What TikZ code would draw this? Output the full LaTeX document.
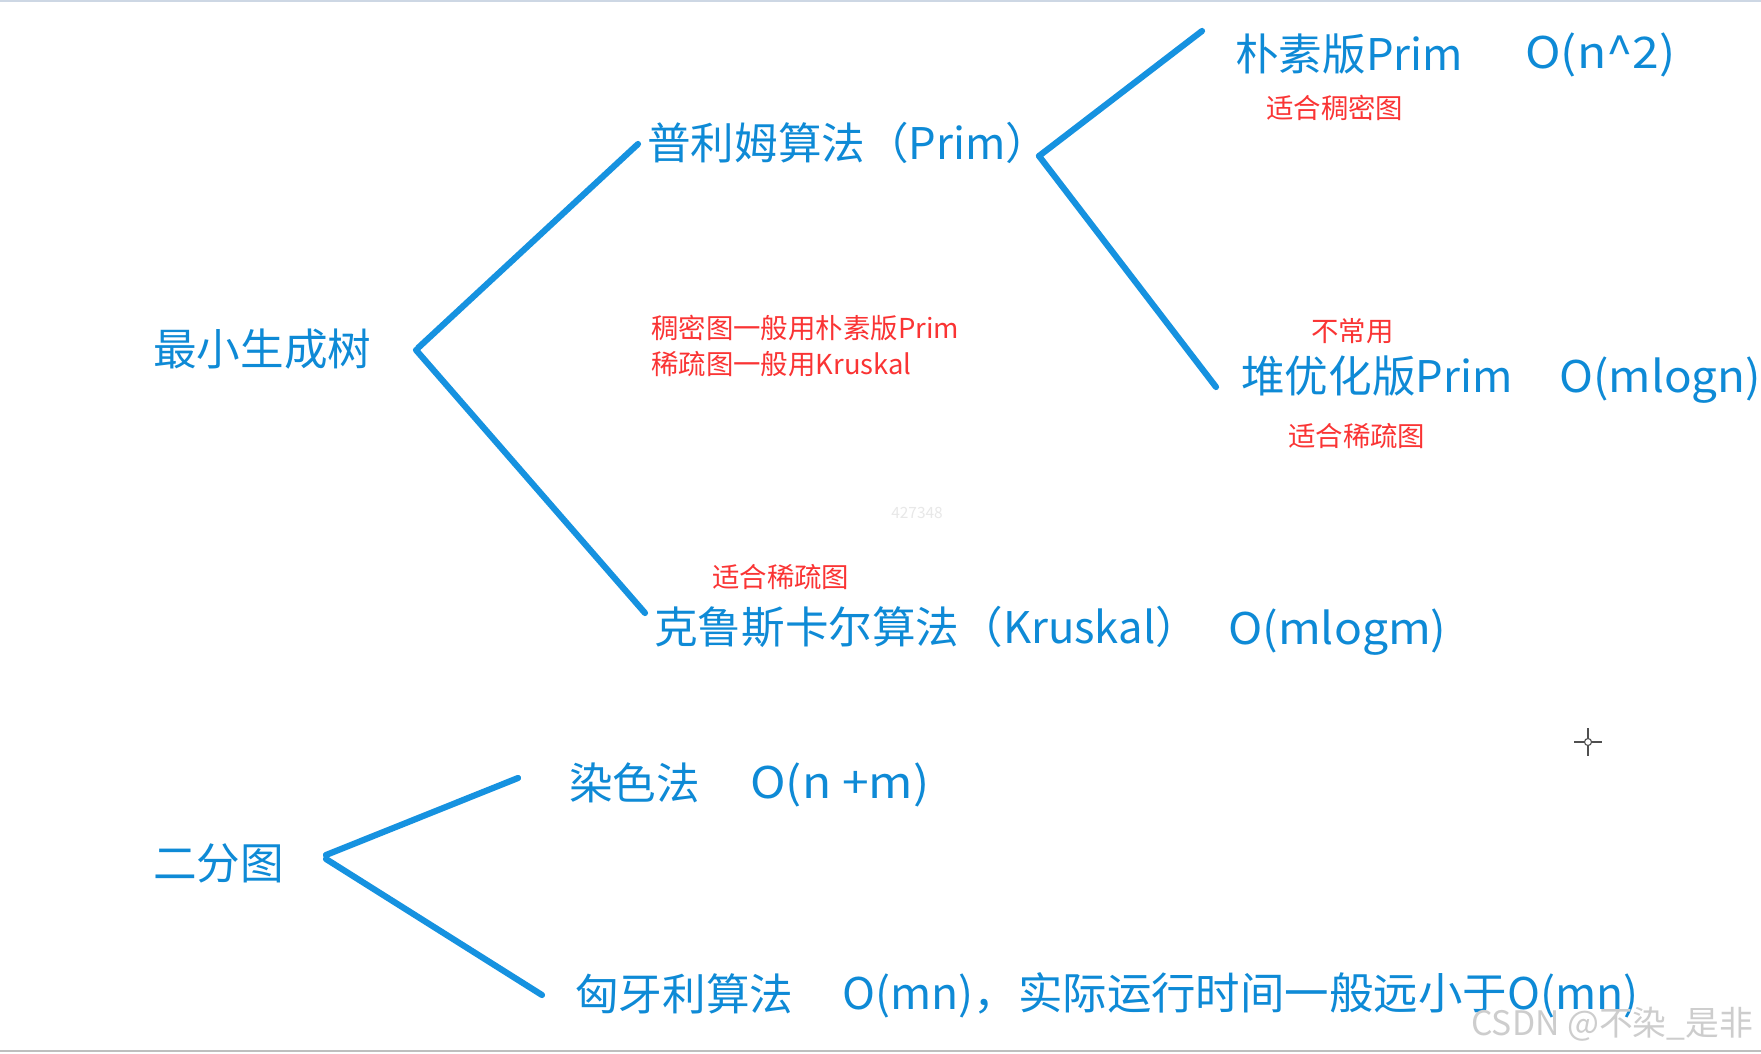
\documentclass[tikz,border=0pt]{standalone}
\usepackage{fontspec}
\usetikzlibrary{calc}
\setmainfont{Noto Sans CJK SC}
\begin{document}
\begin{tikzpicture}[x=0.025cm,y=-0.025cm,
  bluetext/.style={text=mblue,font=\fontsize{31}{36}\selectfont,anchor=west,inner sep=0pt},
  redtext/.style={text=mred,font=\fontsize{19.5}{23}\selectfont,anchor=west,inner sep=0pt},
  branch/.style={draw=mline,line width=4.4pt,line cap=round}]
\definecolor{mblue}{RGB}{14,138,214}
\definecolor{mline}{RGB}{22,146,224}
\definecolor{mred}{RGB}{250,52,52}
\useasboundingbox (0,0) rectangle (1761,1053);
\fill[white] (0,0) rectangle (1761,1053);
\draw[color={rgb,255:red,205;green,215;blue,228},line width=2pt] (0,1) -- (1761,1);
\draw[color={rgb,255:red,190;green,190;blue,190},line width=1.5pt] (0,1051) -- (1761,1051);
% main nodes
\node[bluetext] (mst) at (153,349) {最小生成树};
\node[bluetext] (prim) at (647,143) {普利姆算法（Prim）};
\node[bluetext] (naive) at (1235,54) {朴素版Prim};
\node[bluetext] (on2) at (1525,55) {\addfontfeature{FakeStretch=1.1}O(n\^{}2)};
\node[redtext] (dense) at (1266,108) {适合稠密图};
\node[redtext] (note1) at (651,328) {稠密图一般用朴素版Prim};
\node[redtext] (note2) at (651,364) {稀疏图一般用Kruskal};
\node[redtext] (rare) at (1311,331) {不常用};
\node[bluetext] (heap) at (1241,376) {堆优化版Prim};
\node[bluetext] (omlogn) at (1559,380) {\addfontfeature{FakeStretch=1.05}O(mlogn)};
\node[redtext] (sparse1) at (1288,436) {适合稀疏图};
\node[text={rgb,255:red,232;green,232;blue,232},font=\fontsize{11}{13}\selectfont,inner sep=0pt] (wm1) at (917,513) {427348};
\node[redtext] (sparse2) at (712,577) {适合稀疏图};
\node[bluetext] (krus) at (654,627) {克鲁斯卡尔算法（Kruskal）};
\node[bluetext] (omlogm) at (1228,632) {\addfontfeature{FakeStretch=1.06}O(mlogm)};
\node[bluetext] (bip) at (153,863) {二分图};
\node[bluetext] (color) at (569,783) {染色法};
\node[bluetext] (onm) at (750,785) {\addfontfeature{FakeStretch=1.1}O(n +m)};
\node[bluetext] (hung) at (575,994) {匈牙利算法};
\node[bluetext] (hungc) at (842,995) {\addfontfeature{FakeStretch=1.02}O(mn)，实际运行时间一般远小于O(mn)};
\node[text={rgb,255:red,205;green,205;blue,205},font=\fontsize{24}{28}\selectfont,anchor=west,inner sep=0pt] (csdn) at (1471,1024) {CSDN @不染\_是非};
% branch coordinates
\coordinate (a0) at (418,348);
\coordinate (a1) at (638,144);
\coordinate (b0) at (416,350);
\coordinate (b1) at (645,613);
\coordinate (c0) at (1039,156);
\coordinate (c1) at (1202,31);
\coordinate (d1) at (1216,387);
\coordinate (e0) at (326,855);
\coordinate (e1) at (518,778);
\coordinate (f0) at (326,859);
\coordinate (f1) at (542,995);
\draw[branch] (a0) -- (a1);
\draw[branch] (b0) -- (b1);
\draw[branch] (c0) -- (c1);
\draw[branch] (c0) -- (d1);
\draw[branch] (e0) -- (e1);
\draw[branch] (f0) -- (f1);
% cursor
\coordinate (cur) at (1588,742);
\draw[color={rgb,255:red,80;green,80;blue,80},line width=1.3pt] ($(cur)+(-14,0)$) -- ($(cur)+(-4,0)$) ($(cur)+(4,0)$) -- ($(cur)+(14,0)$) ($(cur)+(0,-14)$) -- ($(cur)+(0,-4)$) ($(cur)+(0,4)$) -- ($(cur)+(0,14)$);
\draw[color={rgb,255:red,80;green,80;blue,80},line width=0.8pt] (cur) circle (3.5);
\end{tikzpicture}
\end{document}
